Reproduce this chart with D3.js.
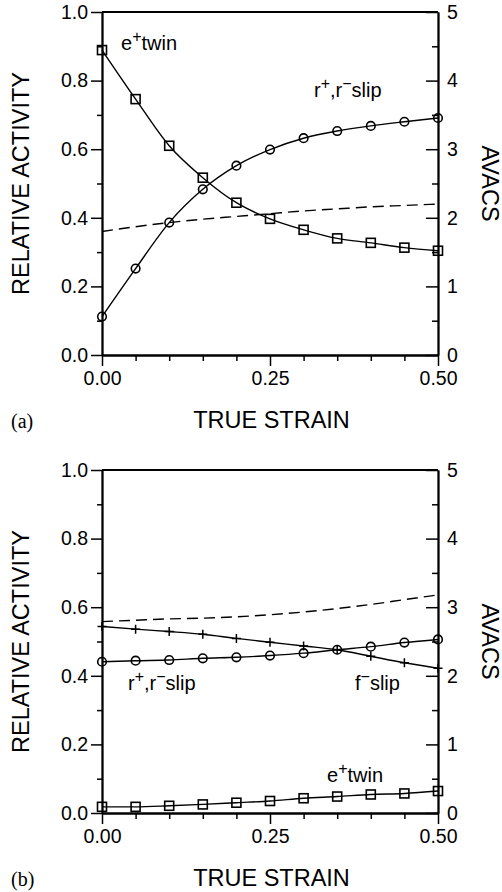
<!DOCTYPE html>
<html>
<head>
<meta charset="utf-8">
<script src="https://cdn.jsdelivr.net/npm/d3@7"></script>
<style>
  html, body { margin: 0; padding: 0; background: #fff; }
  svg { display: block; }
  text { font-family: "Liberation Sans", Arial, sans-serif; fill: #000; }
</style>
</head>
<body>
<svg id="chart" width="502" height="892"></svg>
<script>
// ---------------- data ----------------
const strain = [0, 0.05, 0.10, 0.15, 0.20, 0.25, 0.30, 0.35, 0.40, 0.45, 0.50];

// panel (a)
const aTwin  = [0.889, 0.746, 0.610, 0.517, 0.444, 0.397, 0.365, 0.340, 0.327, 0.313, 0.304];
const aSlipR = [0.112, 0.252, 0.386, 0.483, 0.552, 0.599, 0.632, 0.653, 0.668, 0.680, 0.691];
const aAvacs = [1.80, 1.87, 1.93, 1.98, 2.02, 2.06, 2.10, 2.13, 2.16, 2.18, 2.20];

// panel (b)
const bTwin  = [0.018, 0.018, 0.021, 0.025, 0.030, 0.035, 0.043, 0.048, 0.054, 0.057, 0.064];
const bSlipR = [0.441, 0.444, 0.446, 0.451, 0.454, 0.459, 0.466, 0.476, 0.485, 0.497, 0.506];
const bSlipF = [0.544, 0.536, 0.529, 0.521, 0.509, 0.498, 0.487, 0.476, 0.457, 0.438, 0.422];
const bAvacs = [2.79, 2.81, 2.83, 2.84, 2.86, 2.89, 2.93, 2.98, 3.04, 3.11, 3.18];

const xMajor = [0, 0.25, 0.5];
const xMinor = [0.05, 0.10, 0.15, 0.20, 0.30, 0.35, 0.40, 0.45];
const yMajor = [0, 0.2, 0.4, 0.6, 0.8, 1.0];
const yMinor = [0.1, 0.3, 0.5, 0.7, 0.9];
const rMajor = [0, 1, 2, 3, 4, 5];
const rMinor = [0.5, 1.5, 2.5, 3.5, 4.5];

// ---------------- layout ----------------
const svg = d3.select("#chart");
const X0 = 102, X1 = 438, PH = 343;
const x = d3.scaleLinear().domain([0, 0.5]).range([X0, X1]);
const TICK_FS = 19.5, TITLE_FS = 23.5, ANN_FS = 20;

function sup(textSel, parts) {
  // parts: array of [string, isSuperscript]
  parts.forEach(([s, isSup]) => {
    const t = textSel.append("tspan").text(s);
    if (isSup) t.attr("font-size", 16).attr("dy", -8);
    else t.attr("dy", textSel.node().__lastSup ? 8 : 0);
    textSel.node().__lastSup = isSup;
  });
}

function panel(top, series, avacs, labels, tag) {
  const g = svg.append("g");
  const yL = d3.scaleLinear().domain([0, 1]).range([top + PH, top]);
  const yR = d3.scaleLinear().domain([0, 5]).range([top + PH, top]);

  // frame top line
  g.append("line").attr("x1", X0).attr("x2", X1).attr("y1", top).attr("y2", top)
    .attr("stroke", "#000").attr("stroke-width", 1.8);

  // left axis
  const la = g.append("g").attr("transform", `translate(${X0},0)`)
    .call(d3.axisLeft(yL).tickValues(yMajor).tickSize(11).tickSizeOuter(0).tickPadding(3).tickFormat(d3.format(".1f")));
  const lm = g.append("g").attr("transform", `translate(${X0},0)`)
    .call(d3.axisLeft(yL).tickValues(yMinor).tickSize(5).tickSizeOuter(0).tickFormat(""));

  // right axis (ticks inward)
  const ra = g.append("g").attr("transform", `translate(${X1},0)`)
    .call(d3.axisRight(yR).tickValues(rMajor).tickSizeInner(-12).tickSizeOuter(0).tickPadding(9).tickFormat(d3.format("d")));
  const rm = g.append("g").attr("transform", `translate(${X1},0)`)
    .call(d3.axisRight(yR).tickValues(rMinor).tickSizeInner(-6).tickSizeOuter(0).tickFormat(""));

  // bottom axis
  const ba = g.append("g").attr("transform", `translate(0,${top + PH})`)
    .call(d3.axisBottom(x).tickValues(xMajor).tickSize(11).tickSizeOuter(0).tickPadding(5).tickFormat(d3.format(".2f")));
  const bm = g.append("g").attr("transform", `translate(0,${top + PH})`)
    .call(d3.axisBottom(x).tickValues(xMinor).tickSize(6).tickSizeOuter(0).tickFormat(""));

  [la, lm, ra, rm, ba, bm].forEach(a => {
    a.select(".domain").attr("stroke", "#000").attr("stroke-width", 1.8);
    a.selectAll(".tick line").attr("stroke", "#000").attr("stroke-width", 1.5);
    a.selectAll(".tick text").attr("font-size", TICK_FS)
      .attr("font-family", "'Liberation Sans', Arial, sans-serif").attr("fill", "#000");
  });

  // dashed AVACS line
  const lineR = d3.line().x((d, i) => x(strain[i])).y(d => yR(d)).curve(d3.curveMonotoneX);
  g.append("path").datum(avacs).attr("d", lineR)
    .attr("fill", "none").attr("stroke", "#000").attr("stroke-width", 1.4)
    .attr("stroke-dasharray", "11,6");

  // solid series
  const lineL = d3.line().x((d, i) => x(strain[i])).y(d => yL(d)).curve(d3.curveMonotoneX);
  series.forEach(s => {
    g.append("path").datum(s.values).attr("d", lineL)
      .attr("fill", "none").attr("stroke", "#000").attr("stroke-width", 1.4);
    const mk = g.append("g");
    s.values.forEach((v, i) => {
      const cx = x(strain[i]), cy = yL(v);
      if (s.marker === "square") {
        mk.append("rect").attr("x", cx - 4.5).attr("y", cy - 4.5).attr("width", 9).attr("height", 9)
          .attr("fill", "none").attr("stroke", "#000").attr("stroke-width", 1.6);
      } else if (s.marker === "circle") {
        mk.append("circle").attr("cx", cx).attr("cy", cy).attr("r", 4.3)
          .attr("fill", "none").attr("stroke", "#000").attr("stroke-width", 1.6);
      } else {
        mk.append("path").attr("d", `M${cx - 4.5},${cy}H${cx + 4.5}M${cx},${cy - 4.5}V${cy + 4.5}`)
          .attr("stroke", "#000").attr("stroke-width", 1.5);
      }
    });
  });

  // annotations
  labels.forEach(l => {
    const t = g.append("text").attr("x", l.x).attr("y", top + l.dy).attr("font-size", ANN_FS);
    sup(t, l.parts);
  });

  // axis titles
  g.append("text").attr("transform", `translate(28.5,${top + PH / 2}) rotate(-90)`)
    .attr("text-anchor", "middle").attr("font-size", TITLE_FS).text("RELATIVE ACTIVITY");
  g.append("text").attr("transform", `translate(482,${top + PH / 2}) rotate(90)`)
    .attr("text-anchor", "middle").attr("font-size", TITLE_FS).text("AVACS");
  g.append("text").attr("x", 271.5).attr("y", top + PH + 73)
    .attr("text-anchor", "middle").attr("font-size", TITLE_FS).text("TRUE STRAIN");
  g.append("text").attr("x", 11).attr("y", top + PH + 73)
    .attr("font-size", 20).style("font-family", "'Liberation Serif', 'Times New Roman', serif").text(tag);
}

panel(12,
  [{ values: aTwin, marker: "square" }, { values: aSlipR, marker: "circle" }],
  aAvacs,
  [
    { x: 121, dy: 38, parts: [["e", false], ["+", true], ["twin", false]] },
    { x: 314, dy: 85, parts: [["r", false], ["+", true], [",r", false], ["\u2212", true], ["slip", false]] }
  ],
  "(a)");

panel(470,
  [{ values: bSlipF, marker: "plus" }, { values: bSlipR, marker: "circle" }, { values: bTwin, marker: "square" }],
  bAvacs,
  [
    { x: 128, dy: 220, parts: [["r", false], ["+", true], [",r", false], ["\u2212", true], ["slip", false]] },
    { x: 355, dy: 220, parts: [["f", false], ["\u2212", true], ["slip", false]] },
    { x: 327, dy: 312, parts: [["e", false], ["+", true], ["twin", false]] }
  ],
  "(b)");
</script>
</body>
</html>
